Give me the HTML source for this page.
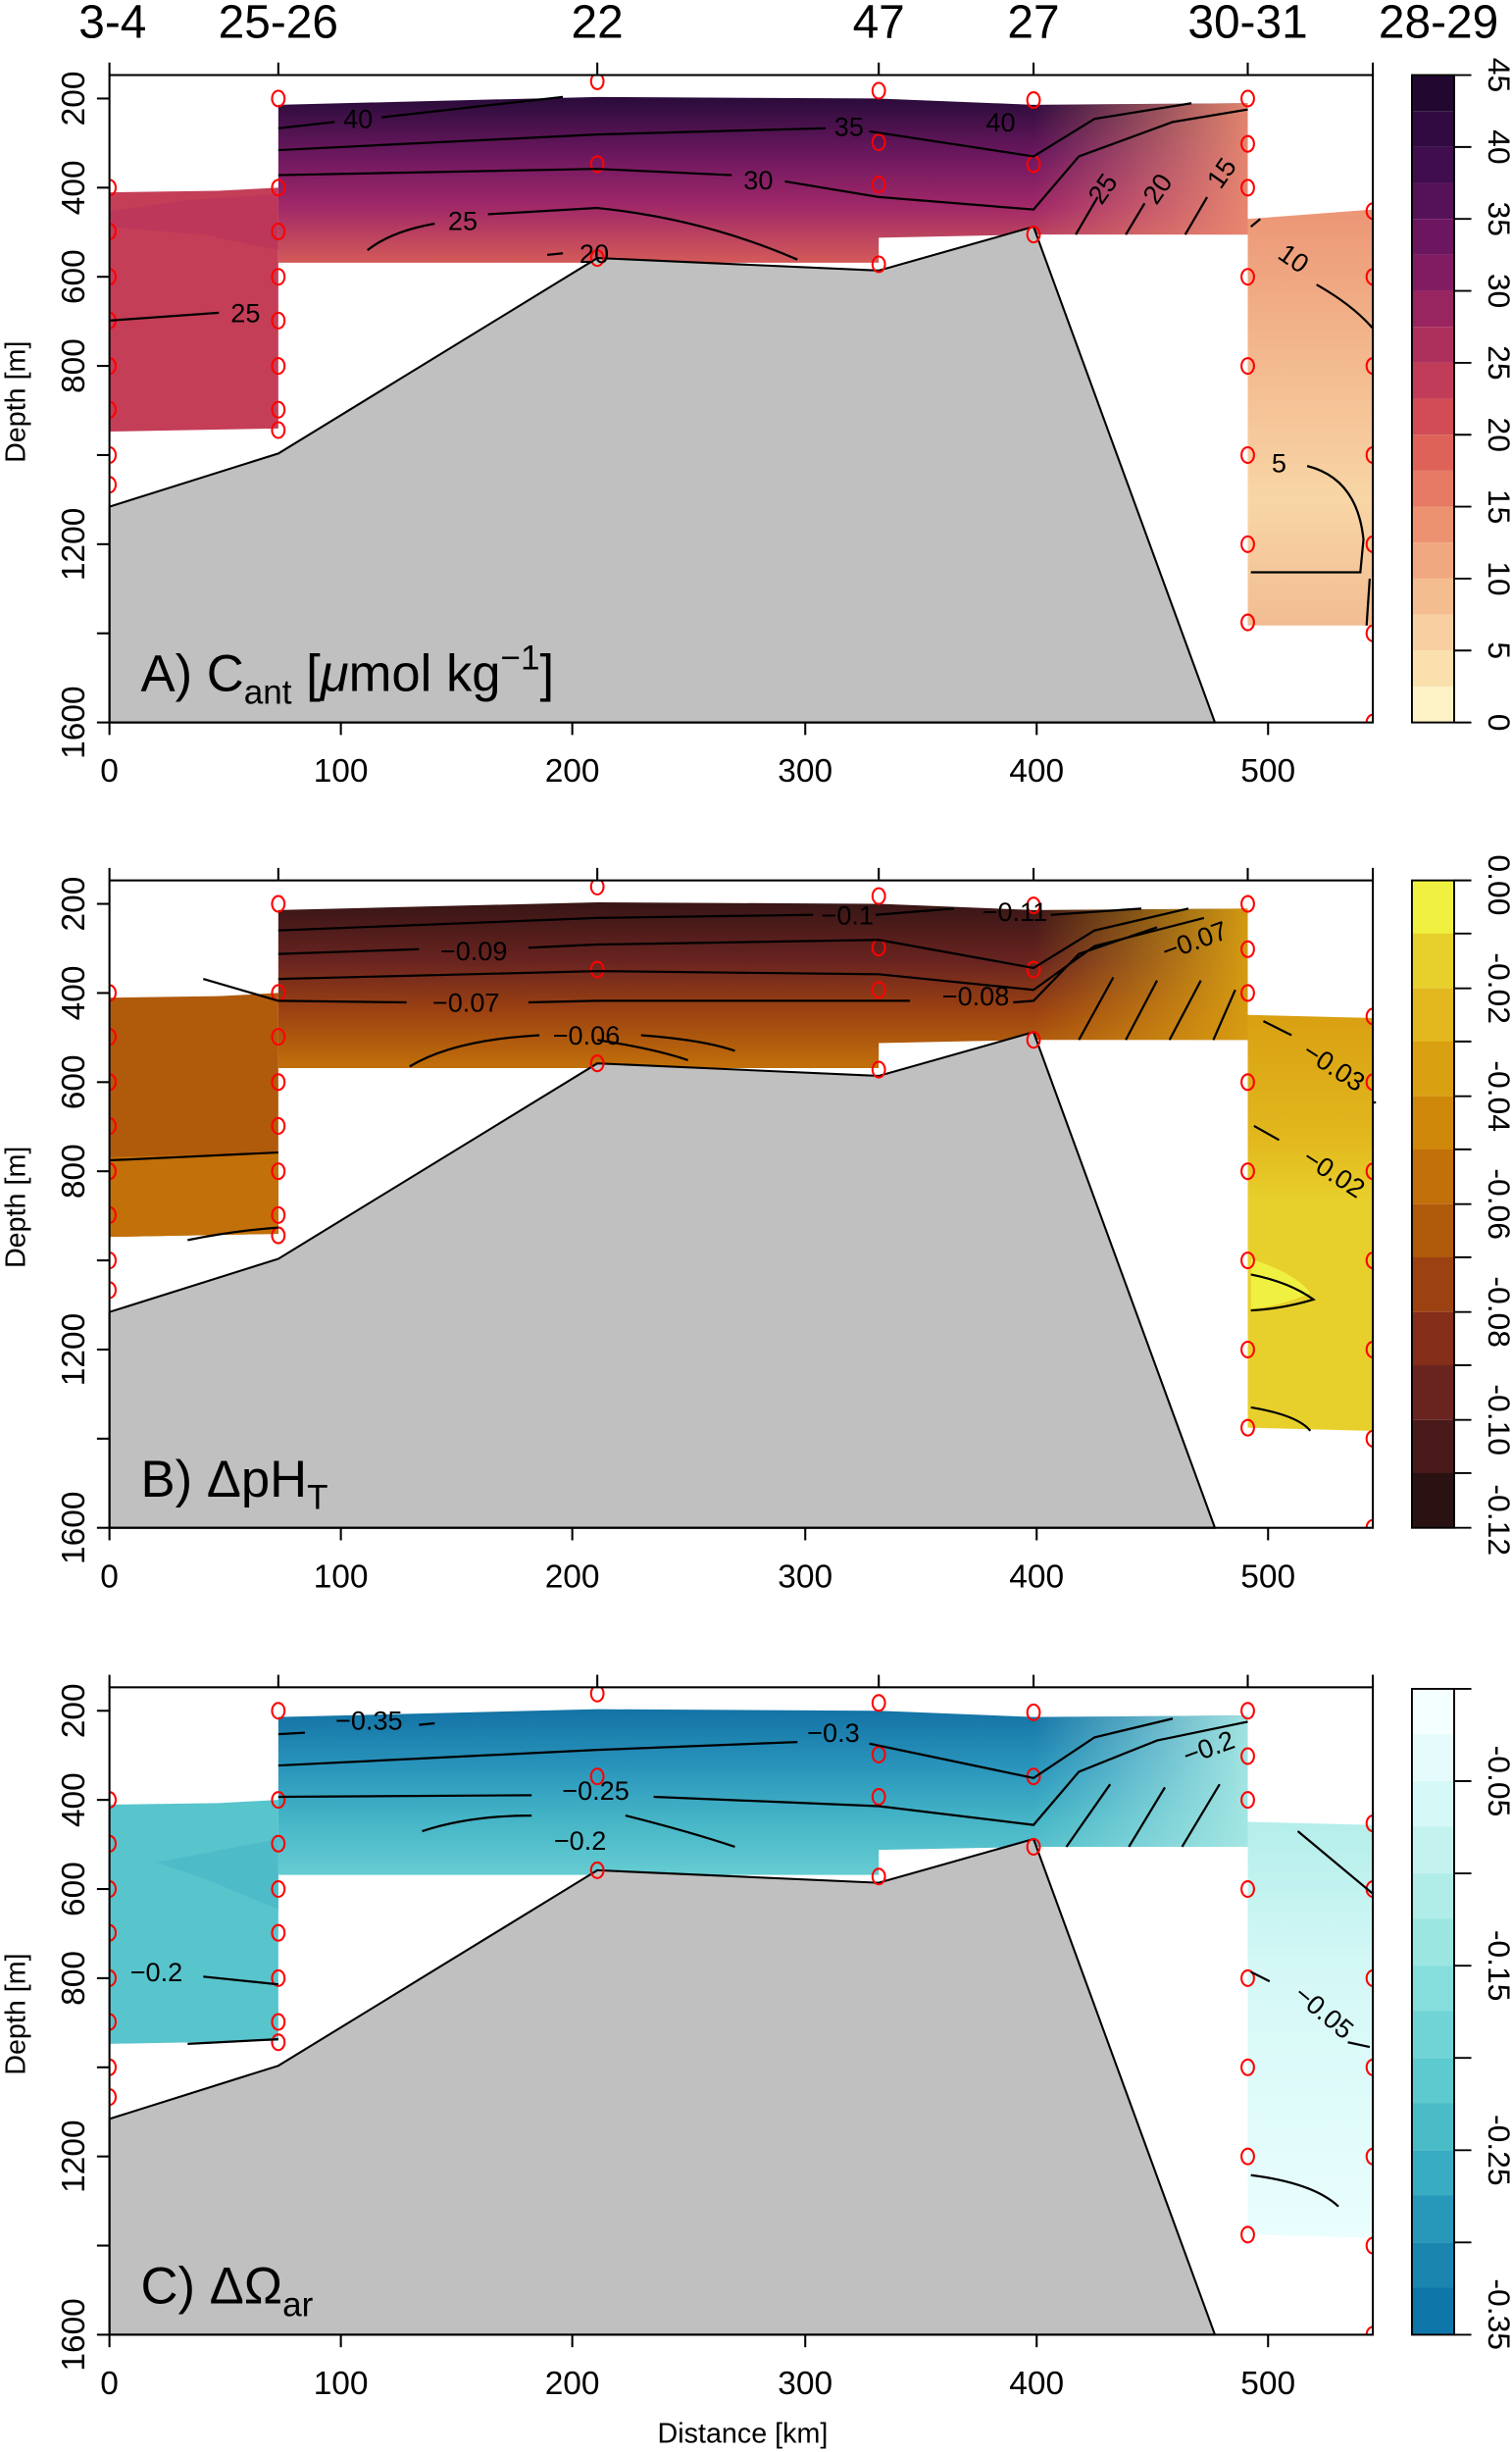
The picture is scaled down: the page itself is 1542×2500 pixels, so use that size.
<!DOCTYPE html>
<html><head><meta charset="utf-8"><style>html,body{margin:0;padding:0;background:#fff}svg{display:block}text{font-family:"Liberation Sans",sans-serif;fill:#000}</style></head><body>
<svg width="1542" height="2500" viewBox="0 0 967 1568" preserveAspectRatio="none" xmlns="http://www.w3.org/2000/svg">
<defs>
<clipPath id="pc"><rect x="70" y="48" width="808" height="414"/></clipPath>
<linearGradient id="gAm" x1="0" y1="64" x2="0" y2="168" gradientUnits="userSpaceOnUse"><stop offset="0" stop-color="#2c0c3c"/><stop offset="0.35" stop-color="#6e1860"/><stop offset="0.65" stop-color="#a02868"/><stop offset="1" stop-color="#d45a58"/></linearGradient>
<linearGradient id="gAr" x1="661" y1="0" x2="798" y2="0" gradientUnits="userSpaceOnUse"><stop offset="0" stop-color="#e88870" stop-opacity="0"/><stop offset="1" stop-color="#ea8a70" stop-opacity="0.95"/></linearGradient>
<linearGradient id="gArb" x1="0" y1="134" x2="0" y2="400" gradientUnits="userSpaceOnUse"><stop offset="0" stop-color="#ec9676"/><stop offset="0.3" stop-color="#f2b48a"/><stop offset="0.7" stop-color="#f8d6a6"/><stop offset="1" stop-color="#f2bc92"/></linearGradient>
<linearGradient id="gBm" x1="0" y1="64" x2="0" y2="168" gradientUnits="userSpaceOnUse"><stop offset="0" stop-color="#3a1616"/><stop offset="0.35" stop-color="#6a2420"/><stop offset="0.65" stop-color="#9c4212"/><stop offset="1" stop-color="#c2700a"/></linearGradient>
<linearGradient id="gBr" x1="661" y1="0" x2="798" y2="0" gradientUnits="userSpaceOnUse"><stop offset="0" stop-color="#d9a012" stop-opacity="0"/><stop offset="1" stop-color="#d9a012" stop-opacity="0.95"/></linearGradient>
<linearGradient id="gBrb" x1="0" y1="134" x2="0" y2="400" gradientUnits="userSpaceOnUse"><stop offset="0" stop-color="#d9a012"/><stop offset="0.3" stop-color="#e2b81e"/><stop offset="0.45" stop-color="#e8d02c"/><stop offset="1" stop-color="#e8d02c"/></linearGradient>
<linearGradient id="gCm" x1="0" y1="64" x2="0" y2="168" gradientUnits="userSpaceOnUse"><stop offset="0" stop-color="#1474a6"/><stop offset="0.35" stop-color="#2a96bc"/><stop offset="0.65" stop-color="#44b4c6"/><stop offset="1" stop-color="#66ccd2"/></linearGradient>
<linearGradient id="gCr" x1="661" y1="0" x2="798" y2="0" gradientUnits="userSpaceOnUse"><stop offset="0" stop-color="#a8e8e4" stop-opacity="0"/><stop offset="1" stop-color="#a8e8e4" stop-opacity="0.95"/></linearGradient>
<linearGradient id="gCrb" x1="0" y1="134" x2="0" y2="400" gradientUnits="userSpaceOnUse"><stop offset="0" stop-color="#b4eeea"/><stop offset="0.35" stop-color="#d4f8f6"/><stop offset="1" stop-color="#eafefe"/></linearGradient>
<g id="common">
<polygon points="70,324 178,290 382,165 562,173 661,145 777,462 70,462" fill="#c0c0c0" stroke="#000" stroke-width="1.3"/>
<g fill="none" stroke="#f00" stroke-width="1.3" clip-path="url(#pc)">
<ellipse cx="70" cy="120" rx="4" ry="5"/><ellipse cx="70" cy="148" rx="4" ry="5"/><ellipse cx="70" cy="177" rx="4" ry="5"/><ellipse cx="70" cy="205" rx="4" ry="5"/><ellipse cx="70" cy="234" rx="4" ry="5"/><ellipse cx="70" cy="262" rx="4" ry="5"/><ellipse cx="70" cy="291" rx="4" ry="5"/><ellipse cx="70" cy="310" rx="4" ry="5"/>
<ellipse cx="178" cy="63" rx="4" ry="5"/><ellipse cx="178" cy="120" rx="4" ry="5"/><ellipse cx="178" cy="148" rx="4" ry="5"/><ellipse cx="178" cy="177" rx="4" ry="5"/><ellipse cx="178" cy="205" rx="4" ry="5"/><ellipse cx="178" cy="234" rx="4" ry="5"/><ellipse cx="178" cy="262" rx="4" ry="5"/><ellipse cx="178" cy="275" rx="4" ry="5"/>
<ellipse cx="382" cy="52" rx="4" ry="5"/><ellipse cx="382" cy="105" rx="4" ry="5"/><ellipse cx="382" cy="165" rx="4" ry="5"/>
<ellipse cx="562" cy="58" rx="4" ry="5"/><ellipse cx="562" cy="91" rx="4" ry="5"/><ellipse cx="562" cy="118" rx="4" ry="5"/><ellipse cx="562" cy="169" rx="4" ry="5"/>
<ellipse cx="661" cy="64" rx="4" ry="5"/><ellipse cx="661" cy="105" rx="4" ry="5"/><ellipse cx="661" cy="150" rx="4" ry="5"/>
<ellipse cx="798" cy="63" rx="4" ry="5"/><ellipse cx="798" cy="92" rx="4" ry="5"/><ellipse cx="798" cy="120" rx="4" ry="5"/><ellipse cx="798" cy="177" rx="4" ry="5"/><ellipse cx="798" cy="234" rx="4" ry="5"/><ellipse cx="798" cy="291" rx="4" ry="5"/><ellipse cx="798" cy="348" rx="4" ry="5"/><ellipse cx="798" cy="398" rx="4" ry="5"/>
<ellipse cx="878" cy="135" rx="4" ry="5"/><ellipse cx="878" cy="177" rx="4" ry="5"/><ellipse cx="878" cy="234" rx="4" ry="5"/><ellipse cx="878" cy="291" rx="4" ry="5"/><ellipse cx="878" cy="348" rx="4" ry="5"/><ellipse cx="878" cy="405" rx="4" ry="5"/><ellipse cx="878" cy="462" rx="4" ry="5"/>
</g>
<rect x="70" y="48" width="808" height="414" fill="none" stroke="#000" stroke-width="1.3"/>
<g stroke="#000" stroke-width="1.3">
<line x1="70" y1="48" x2="70" y2="40"/><line x1="178" y1="48" x2="178" y2="40"/><line x1="382" y1="48" x2="382" y2="40"/><line x1="562" y1="48" x2="562" y2="40"/><line x1="661" y1="48" x2="661" y2="40"/><line x1="798" y1="48" x2="798" y2="40"/><line x1="878" y1="48" x2="878" y2="40"/>
<line x1="70" y1="63" x2="62" y2="63"/><line x1="70" y1="120" x2="62" y2="120"/><line x1="70" y1="177" x2="62" y2="177"/><line x1="70" y1="234" x2="62" y2="234"/><line x1="70" y1="291" x2="62" y2="291"/><line x1="70" y1="348" x2="62" y2="348"/><line x1="70" y1="405" x2="62" y2="405"/><line x1="70" y1="462" x2="62" y2="462"/>
<line x1="70" y1="462" x2="70" y2="470"/><line x1="218" y1="462" x2="218" y2="470"/><line x1="366" y1="462" x2="366" y2="470"/><line x1="515" y1="462" x2="515" y2="470"/><line x1="663" y1="462" x2="663" y2="470"/><line x1="811" y1="462" x2="811" y2="470"/>
</g>
<g font-size="21" text-anchor="middle">
<text transform="translate(54,63) rotate(-90)">200</text><text transform="translate(54,120) rotate(-90)">400</text><text transform="translate(54,177) rotate(-90)">600</text><text transform="translate(54,234) rotate(-90)">800</text><text transform="translate(54,348) rotate(-90)">1200</text><text transform="translate(54,462) rotate(-90)">1600</text>
<text x="70" y="500">0</text><text x="218" y="500">100</text><text x="366" y="500">200</text><text x="515" y="500">300</text><text x="663" y="500">400</text><text x="811" y="500">500</text>
</g>
<text transform="translate(16,257) rotate(-90)" font-size="18" text-anchor="middle">Depth [m]</text>
</g>
</defs>

<!-- station labels -->
<g font-size="30" text-anchor="middle">
<text x="72" y="24">3-4</text><text x="178" y="24">25-26</text><text x="382" y="24">22</text><text x="562" y="24">47</text><text x="661" y="24">27</text><text x="798" y="24">30-31</text><text x="920" y="24">28-29</text>
</g>

<!-- PANEL A -->
<g>
<polygon points="70,123 140,122 178,120 178,274 70,276" fill="#c43e58"/>
<polygon points="70,135 120,128 178,124 178,160 130,150 70,145" fill="#b8345c" opacity="0.6"/>
<polygon points="178,67 382,62 562,63 661,67 798,66 798,150 661,150 562,152 562,168 178,168" fill="url(#gAm)"/>
<polygon points="661,67 798,66 798,150 661,150" fill="url(#gAr)"/>
<polygon points="798,140 878,134 878,400 798,400" fill="url(#gArb)"/>
<use href="#common"/>
<g fill="none" stroke="#000" stroke-width="1.4">
<path d="M178,82 L214,78 M244,75 L360,62"/>
<path d="M178,96 L382,86 L528,82 M556,84 L661,100 L700,76 L762,66"/>
<path d="M178,112 L382,108 L468,112 M502,116 L562,126 L661,134 L690,100 L750,78 L798,70"/>
<path d="M235,160 Q250,148 278,143 M312,137 L382,133 Q450,140 510,166"/>
<path d="M688,150 L702,126 M720,150 L732,130 M758,150 L772,126"/>
<path d="M350,163 L360,162"/>
<path d="M70,205 L140,200"/>
<path d="M800,145 L806,140 M842,182 Q865,195 878,210"/>
<path d="M836,298 Q868,306 872,345 L870,366 L800,366 M876,370 L874,400"/>
</g>
<g font-size="17" text-anchor="middle">
<text x="229" y="82">40</text><text x="543" y="87">35</text><text x="640" y="84">40</text><text x="485" y="121">30</text><text x="296" y="147">25</text><text x="380" y="168">20</text><text x="157" y="206">25</text>
<text transform="translate(710,124) rotate(-55)">25</text><text transform="translate(745,124) rotate(-55)">20</text><text transform="translate(786,114) rotate(-55)">15</text>
<text transform="translate(824,170) rotate(35)">10</text><text x="818" y="302">5</text>
</g>
<text x="90" y="442" font-size="33">A) C<tspan font-size="22" dy="8">ant</tspan><tspan dy="-8"> [</tspan><tspan font-style="italic">μ</tspan>mol kg<tspan font-size="22" dy="-14">−1</tspan><tspan dy="14">]</tspan></text>
</g>

<!-- PANEL B -->
<g transform="translate(0,515)">
<polygon points="70,123 140,122 178,120 178,274 70,276" fill="#b05a0c"/>
<polygon points="70,225 178,222 178,274 70,276" fill="#c2700a"/>
<polygon points="178,67 382,62 562,63 661,67 798,66 798,150 661,150 562,152 562,168 178,168" fill="url(#gBm)"/>
<polygon points="661,67 798,66 798,150 661,150" fill="url(#gBr)"/>
<polygon points="798,134 878,136 878,400 798,398" fill="url(#gBrb)"/>
<path d="M800,290 Q830,300 838,312 Q820,320 800,322 Z" fill="#f0f040"/>
<use href="#common"/>
<g fill="none" stroke="#000" stroke-width="1.4">
<path d="M178,80 L382,72 L520,70 M560,70 L610,66 M672,70 L730,66"/>
<path d="M178,95 L268,92 M338,91 L382,89 L562,86 L661,104 L700,80 L760,66"/>
<path d="M178,111 L382,106 L562,108 L661,118 L700,90 L770,72"/>
<path d="M130,111 L178,125 M178,125 L260,126 M338,126 L382,125 L562,125 L582,125 M648,126 L661,125 L690,95 L740,78"/>
<path d="M262,167 Q290,150 345,147 M410,147 Q450,150 470,157 M382,150 Q420,156 440,163"/>
<path d="M690,150 L712,110 M720,150 L740,112 M748,150 L768,112 M776,150 L790,118"/>
<path d="M70,227 L178,222 M120,278 Q150,272 178,270"/>
<path d="M808,138 L826,147 M880,190 L878,190 M802,205 L818,214 M800,300 Q825,305 840,316 Q820,322 800,323 M800,385 Q830,390 838,400"/>
</g>
<g font-size="17" text-anchor="middle">
<text x="542" y="76">−0.1</text><text x="649" y="74">−0.11</text><text x="303" y="99">−0.09</text><text x="298" y="132">−0.07</text><text x="375" y="153">−0.06</text><text x="624" y="128">−0.08</text>
<text transform="translate(766,92) rotate(-20)">−0.07</text>
<text transform="translate(850,172) rotate(33)">−0.03</text><text transform="translate(850,240) rotate(33)">−0.02</text>
</g>
<text x="90" y="442" font-size="33">B) ΔpH<tspan font-size="22" dy="8">T</tspan></text>
</g>

<!-- PANEL C -->
<g transform="translate(0,1031)">
<polygon points="70,123 140,122 178,120 178,274 70,276" fill="#58c4cc"/>
<polygon points="100,160 178,145 178,190 130,170" fill="#4ab8c6" opacity="0.7"/>
<polygon points="178,67 382,62 562,63 661,67 798,66 798,150 661,150 562,152 562,168 178,168" fill="url(#gCm)"/>
<polygon points="661,67 798,66 798,150 661,150" fill="url(#gCr)"/>
<polygon points="798,134 878,136 878,400 798,398" fill="url(#gCrb)"/>
<use href="#common"/>
<g fill="none" stroke="#000" stroke-width="1.4">
<path d="M178,78 L195,77 M268,72 L278,71"/>
<path d="M178,98 L382,88 L510,83 M556,84 L661,106 L700,80 L750,68"/>
<path d="M178,118 L340,117 M418,118 L562,124 L661,136 L690,102 L740,82 L798,70"/>
<path d="M270,140 Q300,130 340,130 M400,130 Q440,140 470,150"/>
<path d="M682,150 L710,110 M722,150 L745,112 M756,150 L780,110"/>
<path d="M130,233 L178,238 M120,276 L178,273"/>
<path d="M830,140 L878,180 M800,230 L812,236 M862,275 L876,278 M800,360 Q840,365 856,380"/>
</g>
<g font-size="17" text-anchor="middle">
<text x="236" y="75">−0.35</text><text x="533" y="83">−0.3</text><text x="381" y="120">−0.25</text><text x="371" y="152">−0.2</text><text x="100" y="236">−0.2</text>
<text transform="translate(775,92) rotate(-20)">−0.2</text><text transform="translate(843,260) rotate(40)">−0.05</text>
</g>
<text x="90" y="442" font-size="33">C) ΔΩ<tspan font-size="22" dy="8">ar</tspan></text>
</g>
<text x="475" y="1562" font-size="18" text-anchor="middle">Distance [km]</text>

<!-- COLORBAR A -->
<g>
<g id="cbA">
<rect x="903" y="48" width="27" height="23" fill="#220830"/><rect x="903" y="71" width="27" height="23" fill="#300a40"/><rect x="903" y="94" width="27" height="23" fill="#400e4e"/><rect x="903" y="117" width="27" height="23" fill="#561258"/><rect x="903" y="140" width="27" height="23" fill="#6c1660"/><rect x="903" y="163" width="27" height="23" fill="#821c62"/><rect x="903" y="186" width="27" height="23" fill="#982460"/><rect x="903" y="209" width="27" height="23" fill="#ad305c"/><rect x="903" y="232" width="27" height="23" fill="#c13c58"/><rect x="903" y="255" width="27" height="23" fill="#d14c55"/><rect x="903" y="278" width="27" height="23" fill="#de6258"/><rect x="903" y="301" width="27" height="23" fill="#e67a64"/><rect x="903" y="324" width="27" height="23" fill="#ec9270"/><rect x="903" y="347" width="27" height="23" fill="#f0a880"/><rect x="903" y="370" width="27" height="23" fill="#f4bd8f"/><rect x="903" y="393" width="27" height="23" fill="#f8cfa0"/><rect x="903" y="416" width="27" height="23" fill="#fae0ad"/><rect x="903" y="439" width="27" height="23" fill="#fdf1c6"/>
</g>
<rect x="903" y="48" width="27" height="414" fill="none" stroke="#000" stroke-width="1.2"/>
<g stroke="#000" stroke-width="1.2"><line x1="930" y1="48" x2="941" y2="48"/><line x1="930" y1="94" x2="941" y2="94"/><line x1="930" y1="140" x2="941" y2="140"/><line x1="930" y1="186" x2="941" y2="186"/><line x1="930" y1="232" x2="941" y2="232"/><line x1="930" y1="278" x2="941" y2="278"/><line x1="930" y1="324" x2="941" y2="324"/><line x1="930" y1="370" x2="941" y2="370"/><line x1="930" y1="416" x2="941" y2="416"/><line x1="930" y1="462" x2="941" y2="462"/></g>
<g font-size="20" text-anchor="middle">
<text transform="translate(952,48) rotate(90)">45</text><text transform="translate(952,94) rotate(90)">40</text><text transform="translate(952,140) rotate(90)">35</text><text transform="translate(952,186) rotate(90)">30</text><text transform="translate(952,232) rotate(90)">25</text><text transform="translate(952,278) rotate(90)">20</text><text transform="translate(952,324) rotate(90)">15</text><text transform="translate(952,370) rotate(90)">10</text><text transform="translate(952,416) rotate(90)">5</text><text transform="translate(952,462) rotate(90)">0</text>
</g>
</g>

<!-- COLORBAR B -->
<g>
<rect x="903" y="563" width="27" height="35" fill="#f0f040"/><rect x="903" y="597" width="27" height="35" fill="#e8d02c"/><rect x="903" y="632" width="27" height="35" fill="#e2b81e"/><rect x="903" y="666" width="27" height="35" fill="#d9a012"/><rect x="903" y="701" width="27" height="35" fill="#cf880a"/><rect x="903" y="735" width="27" height="35" fill="#c2700a"/><rect x="903" y="770" width="27" height="35" fill="#b05a0c"/><rect x="903" y="804" width="27" height="35" fill="#9c4212"/><rect x="903" y="839" width="27" height="35" fill="#852e1a"/><rect x="903" y="873" width="27" height="35" fill="#6a2420"/><rect x="903" y="908" width="27" height="35" fill="#4a1a1a"/><rect x="903" y="942" width="27" height="35" fill="#2a1212"/>
<rect x="903" y="563" width="27" height="414" fill="none" stroke="#000" stroke-width="1.2"/>
<g stroke="#000" stroke-width="1.2"><line x1="930" y1="563" x2="941" y2="563"/><line x1="930" y1="632" x2="941" y2="632"/><line x1="930" y1="701" x2="941" y2="701"/><line x1="930" y1="770" x2="941" y2="770"/><line x1="930" y1="839" x2="941" y2="839"/><line x1="930" y1="908" x2="941" y2="908"/><line x1="930" y1="977" x2="941" y2="977"/>
<line x1="930" y1="597" x2="941" y2="597"/><line x1="930" y1="666" x2="941" y2="666"/><line x1="930" y1="735" x2="941" y2="735"/><line x1="930" y1="804" x2="941" y2="804"/><line x1="930" y1="873" x2="941" y2="873"/><line x1="930" y1="942" x2="941" y2="942"/></g>
<g font-size="20" text-anchor="middle">
<text transform="translate(952,566) rotate(90)">0.00</text><text transform="translate(952,632) rotate(90)">-0.02</text><text transform="translate(952,701) rotate(90)">-0.04</text><text transform="translate(952,770) rotate(90)">-0.06</text><text transform="translate(952,839) rotate(90)">-0.08</text><text transform="translate(952,908) rotate(90)">-0.10</text><text transform="translate(952,972) rotate(90)">-0.12</text>
</g>
</g>

<!-- COLORBAR C -->
<g>
<rect x="903" y="1080" width="27" height="30" fill="#f4ffff"/><rect x="903" y="1109" width="27" height="30" fill="#e6fcfc"/><rect x="903" y="1139" width="27" height="30" fill="#d6f8f6"/><rect x="903" y="1168" width="27" height="30" fill="#c4f2ee"/><rect x="903" y="1198" width="27" height="30" fill="#b0ece8"/><rect x="903" y="1227" width="27" height="30" fill="#9ce6e2"/><rect x="903" y="1257" width="27" height="30" fill="#86dedc"/><rect x="903" y="1286" width="27" height="30" fill="#70d4d6"/><rect x="903" y="1316" width="27" height="30" fill="#5ccace"/><rect x="903" y="1345" width="27" height="30" fill="#4abcc8"/><rect x="903" y="1375" width="27" height="30" fill="#38acc2"/><rect x="903" y="1404" width="27" height="30" fill="#2898ba"/><rect x="903" y="1434" width="27" height="30" fill="#1a86b0"/><rect x="903" y="1463" width="27" height="30" fill="#0e76a8"/>
<rect x="903" y="1080" width="27" height="413" fill="none" stroke="#000" stroke-width="1.2"/>
<g stroke="#000" stroke-width="1.2"><line x1="930" y1="1080" x2="941" y2="1080"/><line x1="930" y1="1139" x2="941" y2="1139"/><line x1="930" y1="1198" x2="941" y2="1198"/><line x1="930" y1="1257" x2="941" y2="1257"/><line x1="930" y1="1316" x2="941" y2="1316"/><line x1="930" y1="1375" x2="941" y2="1375"/><line x1="930" y1="1434" x2="941" y2="1434"/><line x1="930" y1="1493" x2="941" y2="1493"/></g>
<g font-size="20" text-anchor="middle">
<text transform="translate(952,1139) rotate(90)">-0.05</text><text transform="translate(952,1257) rotate(90)">-0.15</text><text transform="translate(952,1375) rotate(90)">-0.25</text><text transform="translate(952,1480) rotate(90)">-0.35</text>
</g>
</g>
</svg>
</body></html>
